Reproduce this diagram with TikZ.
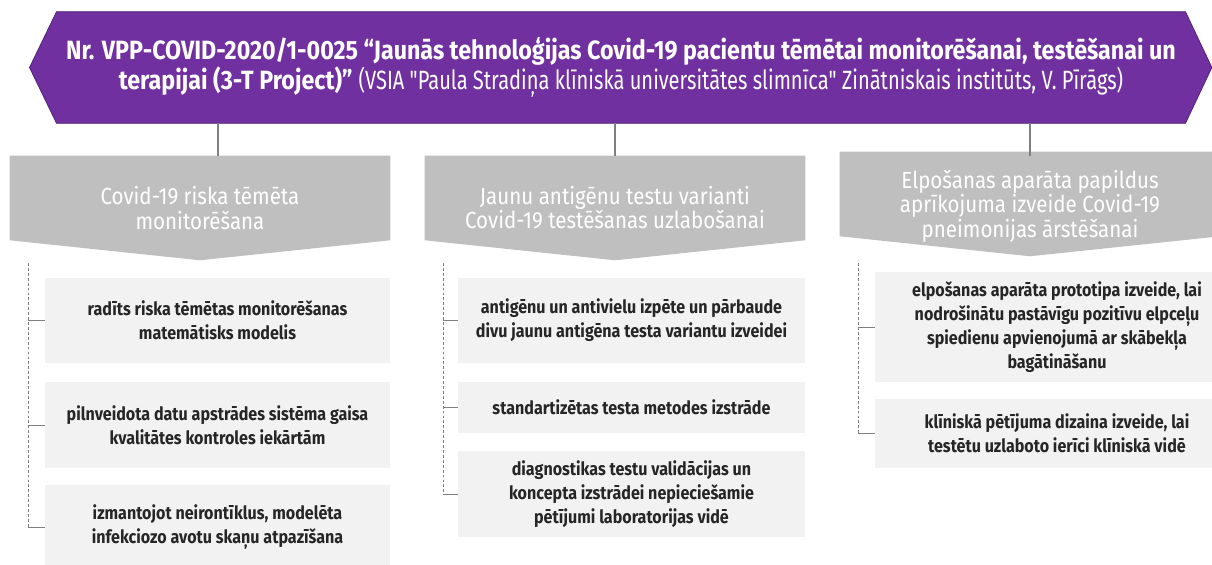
\documentclass[tikz,border=0pt]{standalone}
\usepackage{fontspec}
\setmainfont{Fira Sans}[FakeStretch=0.88]
\newfontfamily\plainfont{Fira Sans}[FakeStretch=0.76]
\usetikzlibrary{backgrounds}
\definecolor{projpurple}{HTML}{7030A0}
\definecolor{headgray}{HTML}{BFBFBF}
\definecolor{boxgray}{HTML}{F2F2F2}
\definecolor{boxtext}{HTML}{262626}
\definecolor{linkgray}{HTML}{7F7F7F}
\begin{document}
\begin{tikzpicture}[x=0.025cm,y=-0.025cm,
  banner/.style={fill=projpurple,draw=projpurple!75!black,line width=0.6pt},
  bannertext/.style={minimum width=28.2cm,minimum height=2.775cm,inner sep=0pt,text=white,align=center,font=\fontsize{18.8}{21.5}\selectfont},
  head/.style={minimum width=9.5cm,minimum height=2.6cm,inner sep=0pt,text=white,align=center,font=\fontsize{16.6}{17.2}\selectfont},
  headfill/.style={fill=headgray},
  task/.style={fill=boxgray,text=boxtext,align=center,inner sep=0pt,font=\bfseries\fontsize{13}{17}\selectfont},
  link/.style={draw=linkgray,line width=0.8pt},
  rail/.style={draw=linkgray,line width=0.4pt,dash pattern=on 2pt off 1.5pt},
  tick/.style={draw=linkgray,line width=0.6pt}]
\useasboundingbox (0,0) rectangle (1212,565);
% project banner
\node[bannertext] (proj) at (621,67.5) {\textbf{Nr. VPP-COVID-2020/1-0025 “Jaunās tehnoloģijas Covid-19 pacientu tēmētai monitorēšanai, testēšanai un}\\
  \textbf{terapijai (3-T Project)”} {\plainfont (VSIA "Paula Stradiņa klīniskā universitātes slimnīca" Zinātniskais institūts, V. Pīrāgs)}};
% work packages
\node[head] (h1) at (200,208) {Covid-19 riska tēmēta\\monitorēšana};
\node[head] (h2) at (615,208) {Jaunu antigēnu testu varianti\\Covid-19 testēšanas uzlabošanai};
\node[head,font=\fontsize{16.6}{15.2}\selectfont] (h3) at (1030,206) {Elpošanas aparāta papildus\\aprīkojuma izveide Covid-19\\pneimonijas ārstēšanai};
\begin{scope}[on background layer]
\draw[banner] (proj.north west) -- (proj.north east) -- ([xshift=0.66cm]proj.east) -- (proj.south east)
  -- (proj.south west) -- ([xshift=-0.675cm]proj.west) -- cycle;
\foreach \h in {h1,h2}
  \fill[headfill] (\h.north west) -- (\h.north east) -- ([yshift=0.5cm]\h.south east) -- (\h.south)
    -- ([yshift=0.5cm]\h.south west) -- cycle;
\fill[headfill] ([yshift=0.05cm]h3.north west) -- ([yshift=0.05cm]h3.north east) -- ([yshift=0.55cm]h3.south east) -- ([yshift=0.05cm]h3.south)
    -- ([yshift=0.55cm]h3.south west) -- cycle;
\end{scope}
% tasks
\node[task,minimum width=8.625cm,minimum height=2.125cm] (t11) at (217.5,320.5) {radīts riska tēmētas monitorēšanas\\matemātisks modelis};
\node[task,minimum width=8.625cm,minimum height=2.15cm] (t12) at (217.5,425) {pilnveidota datu apstrādes sistēma gaisa\\kvalitātes kontroles iekārtām};
\node[task,minimum width=8.625cm,minimum height=2.1cm] (t13) at (217.5,527) {izmantojot neirontīklus, modelēta\\infekciozo avotu skaņu atpazīšana};
\node[task,minimum width=8.675cm,minimum height=2.125cm] (t21) at (631.5,320.5) {antigēnu un antivielu izpēte un pārbaude\\divu jaunu antigēna testa variantu izveidei};
\node[task,minimum width=8.675cm,minimum height=1.275cm] (t22) at (631.5,407.5) {standartizētas testa metodes izstrāde};
\node[task,minimum width=8.675cm,minimum height=2.15cm] (t23) at (631.5,494) {diagnostikas testu validācijas un\\koncepta izstrādei nepieciešamie\\pētījumi laboratorijas vidē};
\node[task,minimum width=9.1cm,minimum height=2.75cm] (t31) at (1057,327) {elpošanas aparāta prototipa izveide, lai\\nodrošinātu pastāvīgu pozitīvu elpceļu\\spiedienu apvienojumā ar skābekļa\\bagātināšanu};
\node[task,minimum width=9.1cm,minimum height=1.725cm] (t32) at (1057,433.5) {klīniskā pētījuma dizaina izveide, lai\\testētu uzlaboto ierīci klīniskā vidē};
% connectors
\coordinate (c1) at (218,156);
\coordinate (c2) at (615,156);
\coordinate (c3) at (1030,156);
\foreach \c in {c1,c2,c3}
  \draw[link] (\c |- proj.south) -- (\c);
\coordinate (r1) at (28,263);
\coordinate (r2) at (443,263);
\coordinate (r3) at (858,263);
\draw[rail] (r1) -- (r1 |- t13.west);
\draw[rail] (r2) -- (r2 |- t23.west);
\draw[rail] (r3) -- (r3 |- t32.west);
\foreach \t in {t11,t12,t13}
  \draw[tick] (r1 |- \t.west) -- (\t.west);
\foreach \t in {t21,t22,t23}
  \draw[tick] (r2 |- \t.west) -- (\t.west);
\foreach \t in {t31,t32}
  \draw[tick] (r3 |- \t.west) -- (\t.west);
\end{tikzpicture}
\end{document}
